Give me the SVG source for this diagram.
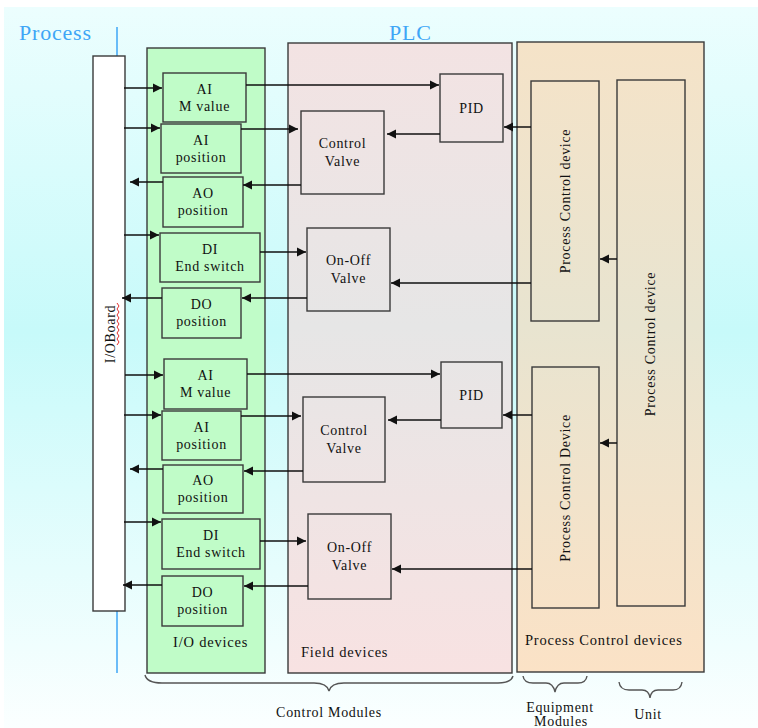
<svg xmlns="http://www.w3.org/2000/svg" width="758" height="728" viewBox="0 0 758 728">
  <defs>
    <linearGradient id="bgGrad" x1="0" y1="0" x2="0" y2="1">
      <stop offset="0" stop-color="#ecfefe"/>
      <stop offset="0.45" stop-color="#c7fafa"/>
      <stop offset="1" stop-color="#fbffff"/>
    </linearGradient>
    <linearGradient id="plcGrad" x1="0" y1="0" x2="0" y2="1">
      <stop offset="0" stop-color="#f3e3e3"/>
      <stop offset="0.45" stop-color="#e6e6e6"/>
      <stop offset="1" stop-color="#f8e2e2"/>
    </linearGradient>
    <linearGradient id="pcdGrad" x1="0" y1="0" x2="0" y2="1">
      <stop offset="0" stop-color="#f5e3c8"/>
      <stop offset="0.45" stop-color="#e8e4d0"/>
      <stop offset="1" stop-color="#fbe2c6"/>
    </linearGradient>
    <marker id="arrow" viewBox="0 0 10 10" markerUnits="userSpaceOnUse" markerWidth="9" markerHeight="10" refX="10" refY="5" orient="auto">
      <path d="M0,0 L10,5 L0,10 z" fill="#111"/>
    </marker>
    <style>
      .panel { stroke: #3a3a3a; stroke-width: 1.4; }
      .box { fill: none; stroke: #3a3a3a; stroke-width: 1.4; }
      .lbl { font-family: "Liberation Serif", "Times New Roman", serif; font-size: 14px; letter-spacing: 0.7px; fill: #111; text-anchor: middle; }
      .cap { font-family: "Liberation Serif", "Times New Roman", serif; font-size: 14.5px; letter-spacing: 0.8px; fill: #111; }
      .title { font-family: "Liberation Serif", "Times New Roman", serif; font-size: 22px; letter-spacing: 0.8px; fill: #3ea6f6; }
      .conn line { stroke: #111; stroke-width: 1.5; marker-end: url(#arrow); }
      .brace { fill: none; stroke: #555; stroke-width: 1.4; }
      .blue { stroke: #3ea6f6; stroke-width: 1.5; }
    </style>
  </defs>

  <!-- page background -->
  <rect x="0" y="0" width="758" height="728" fill="#ffffff"/>
  <rect x="4" y="7" width="754" height="721" fill="url(#bgGrad)"/>

  <!-- headings -->
  <text class="title" x="19" y="40">Process</text>
  <text class="title" x="389" y="40">PLC</text>

  <!-- process boundary line -->
  <line class="blue" x1="117" y1="27" x2="117" y2="56"/>
  <line class="blue" x1="117" y1="611" x2="117" y2="673"/>

  <!-- I/O board -->
  <g id="io-board">
    <rect x="93" y="56" width="32" height="555" fill="#ffffff" stroke="#3a3a3a" stroke-width="1.4"/>
    <text class="lbl" transform="translate(115,334) rotate(-90)" font-size="15">I/OBoard</text>
    <polyline points="117,303 119,306 117,309 119,312 117,315 119,318 117,321 119,324 117,327 119,330 117,333 119,336 117,339 119,342 117,345" fill="none" stroke="#e03030" stroke-width="1"/>
  </g>

  <!-- I/O devices panel -->
  <g id="io-devices">
    <rect class="panel" x="147" y="48" width="118" height="625" fill="#c0fcc8"/>
    <text class="cap" x="173" y="647">I/O devices</text>
  </g>

  <!-- Field devices panel -->
  <g id="field-devices">
    <rect class="panel" x="288" y="43" width="224" height="630" fill="url(#plcGrad)"/>
    <text class="cap" x="301" y="657">Field devices</text>
  </g>

  <!-- Process control devices panel -->
  <g id="process-control-devices">
    <rect class="panel" x="517" y="42" width="187" height="630" fill="url(#pcdGrad)"/>
    <text class="cap" x="525" y="645">Process Control devices</text>
  </g>

  <!-- I/O device blocks, first loop -->
  <g id="ai-mvalue-1">
    <rect class="box" x="163" y="73" width="83" height="49"/>
    <text class="lbl" x="204.5" y="94">AI</text>
    <text class="lbl" x="204.5" y="111">M value</text>
  </g>
  <g id="ai-position-1">
    <rect class="box" x="161" y="124" width="80" height="49"/>
    <text class="lbl" x="201" y="145">AI</text>
    <text class="lbl" x="201" y="162">position</text>
  </g>
  <g id="ao-position-1">
    <rect class="box" x="163" y="177" width="80" height="50"/>
    <text class="lbl" x="203" y="198">AO</text>
    <text class="lbl" x="203" y="215">position</text>
  </g>
  <g id="di-endswitch-1">
    <rect class="box" x="160" y="233" width="100" height="49"/>
    <text class="lbl" x="210" y="254">DI</text>
    <text class="lbl" x="210" y="271">End switch</text>
  </g>
  <g id="do-position-1">
    <rect class="box" x="162" y="288" width="79" height="50"/>
    <text class="lbl" x="201.5" y="309">DO</text>
    <text class="lbl" x="201.5" y="326">position</text>
  </g>

  <!-- I/O device blocks, second loop -->
  <g id="ai-mvalue-2">
    <rect class="box" x="164" y="359" width="83" height="50"/>
    <text class="lbl" x="205.5" y="380">AI</text>
    <text class="lbl" x="205.5" y="397">M value</text>
  </g>
  <g id="ai-position-2">
    <rect class="box" x="162" y="411" width="79" height="49"/>
    <text class="lbl" x="201.5" y="432">AI</text>
    <text class="lbl" x="201.5" y="449">position</text>
  </g>
  <g id="ao-position-2">
    <rect class="box" x="163" y="465" width="80" height="48"/>
    <text class="lbl" x="203" y="485">AO</text>
    <text class="lbl" x="203" y="502">position</text>
  </g>
  <g id="di-endswitch-2">
    <rect class="box" x="162" y="519" width="98" height="50"/>
    <text class="lbl" x="211" y="540">DI</text>
    <text class="lbl" x="211" y="557">End switch</text>
  </g>
  <g id="do-position-2">
    <rect class="box" x="162" y="576" width="81" height="50"/>
    <text class="lbl" x="202.5" y="597">DO</text>
    <text class="lbl" x="202.5" y="614">position</text>
  </g>

  <!-- field device blocks -->
  <g id="pid-1">
    <rect class="box" x="440" y="74" width="63" height="68"/>
    <text class="lbl" x="471.5" y="113">PID</text>
  </g>
  <g id="control-valve-1">
    <rect class="box" x="301" y="111" width="83" height="83"/>
    <text class="lbl" x="342.5" y="148">Control</text>
    <text class="lbl" x="342.5" y="166">Valve</text>
  </g>
  <g id="onoff-valve-1">
    <rect class="box" x="307" y="228" width="83" height="83"/>
    <text class="lbl" x="348.5" y="265">On-Off</text>
    <text class="lbl" x="348.5" y="283">Valve</text>
  </g>
  <g id="pid-2">
    <rect class="box" x="441" y="362" width="61" height="66"/>
    <text class="lbl" x="471.5" y="400">PID</text>
  </g>
  <g id="control-valve-2">
    <rect class="box" x="303" y="397" width="82" height="85"/>
    <text class="lbl" x="344" y="435">Control</text>
    <text class="lbl" x="344" y="453">Valve</text>
  </g>
  <g id="onoff-valve-2">
    <rect class="box" x="308" y="514" width="83" height="85"/>
    <text class="lbl" x="349.5" y="552">On-Off</text>
    <text class="lbl" x="349.5" y="570">Valve</text>
  </g>

  <!-- process control blocks -->
  <g id="process-control-device-1">
    <rect class="box" x="531" y="81" width="68" height="240"/>
    <text class="lbl" transform="translate(570,201) rotate(-90)">Process Control device</text>
  </g>
  <g id="process-control-device-2">
    <rect class="box" x="532" y="367" width="67" height="241"/>
    <text class="lbl" transform="translate(570,488) rotate(-90)">Process Control Device</text>
  </g>
  <g id="unit">
    <rect class="box" x="617" y="80" width="68" height="526"/>
    <text class="lbl" transform="translate(655,344) rotate(-90)">Process Control device</text>
  </g>

  <!-- signal connectors -->
  <g id="connectors" class="conn">
    <!-- board to I/O -->
    <line x1="124" y1="88" x2="162" y2="88"/>
    <line x1="124" y1="128" x2="160" y2="128"/>
    <line x1="163" y1="182" x2="130" y2="182"/>
    <line x1="124" y1="235" x2="159" y2="235"/>
    <line x1="162" y1="298" x2="122" y2="298"/>
    <line x1="125" y1="375" x2="163" y2="375"/>
    <line x1="124" y1="415" x2="161" y2="415"/>
    <line x1="163" y1="469" x2="130" y2="469"/>
    <line x1="124" y1="522" x2="161" y2="522"/>
    <line x1="162" y1="585" x2="123" y2="585"/>
    <!-- first loop -->
    <line x1="246" y1="85" x2="439" y2="85"/>
    <line x1="241" y1="129" x2="298" y2="129"/>
    <line x1="440" y1="134" x2="387" y2="134"/>
    <line x1="301" y1="185" x2="243" y2="185"/>
    <line x1="531" y1="127" x2="504" y2="127"/>
    <line x1="260" y1="252" x2="306" y2="252"/>
    <line x1="307" y1="298" x2="242" y2="298"/>
    <line x1="531" y1="283" x2="391" y2="283"/>
    <line x1="617" y1="259" x2="600" y2="259"/>
    <!-- second loop -->
    <line x1="247" y1="374" x2="440" y2="374"/>
    <line x1="241" y1="416" x2="301" y2="416"/>
    <line x1="441" y1="420" x2="388" y2="420"/>
    <line x1="303" y1="471" x2="244" y2="471"/>
    <line x1="532" y1="415" x2="503" y2="415"/>
    <line x1="260" y1="541" x2="306" y2="541"/>
    <line x1="308" y1="586" x2="244" y2="586"/>
    <line x1="532" y1="569" x2="392" y2="569"/>
    <line x1="617" y1="443" x2="600" y2="443"/>
  </g>

  <!-- grouping braces -->
  <g id="control-modules">
    <path class="brace" d="M145,675 Q147,683 162,683 L314,683 Q327,683 329,691 Q331,683 344,683 L498,683 Q511,683 513,676"/>
    <text class="lbl" x="329" y="717" font-size="15">Control Modules</text>
  </g>
  <g id="equipment-modules">
    <path class="brace" d="M523,676 Q524,683 533,683 L546,683 Q553,683 555,692 Q557,683 564,683 L578,683 Q586,683 587,676"/>
    <text class="lbl" x="560" y="712" font-size="14.5">Equipment</text>
    <text class="lbl" x="561" y="726" font-size="14">Modules</text>
  </g>
  <g id="unit-brace">
    <path class="brace" d="M619,682 Q620,690 629,690 L642,690 Q649,690 650,698 Q651,690 658,690 L673,690 Q681,690 682,682"/>
    <text class="lbl" x="648" y="719" font-size="15">Unit</text>
  </g>
</svg>
